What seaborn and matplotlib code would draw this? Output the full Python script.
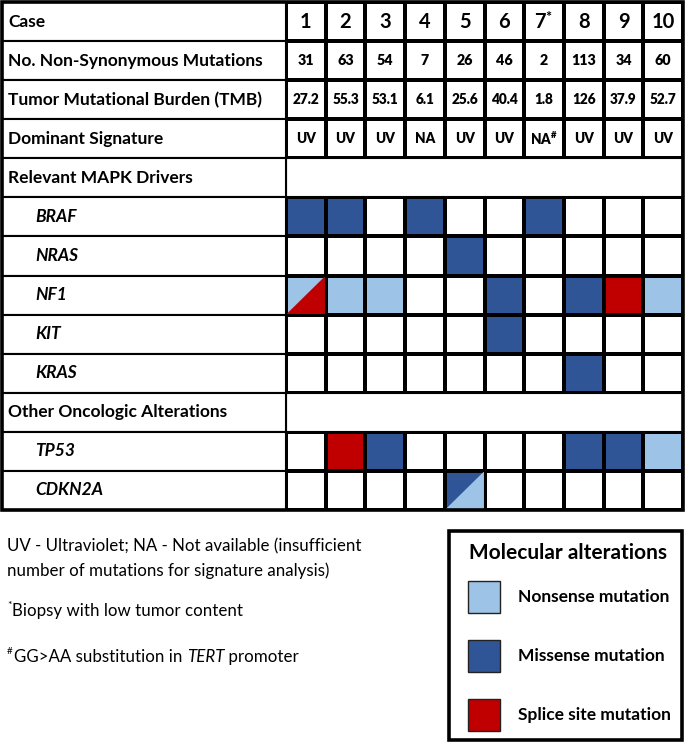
import numpy as np
import matplotlib
matplotlib.use("Agg")
import matplotlib.pyplot as plt
from matplotlib.colors import ListedColormap
from matplotlib.patches import Rectangle, Polygon
import seaborn as sns

plt.rcParams['font.family'] = ['Lato', 'DejaVu Sans']
plt.rcParams['mathtext.default'] = 'regular'

# ---------------- data ----------------
cases = ["1", "2", "3", "4", "5", "6", "7$^{*}$", "8", "9", "10"]
n_mutations = ["31", "63", "54", "7", "26", "46", "2", "113", "34", "60"]
tmb = ["27.2", "55.3", "53.1", "6.1", "25.6", "40.4", "1.8", "126", "37.9", "52.7"]
signature = ["UV", "UV", "UV", "NA", "UV", "UV", "NA$^{\\#}$", "UV", "UV", "UV"]

row_labels = ["Case", "No. Non-Synonymous Mutations", "Tumor Mutational Burden (TMB)",
              "Dominant Signature", "Relevant MAPK Drivers", "BRAF", "NRAS", "NF1",
              "KIT", "KRAS", "Other Oncologic Alterations", "TP53", "CDKN2A"]
gene_rows = ["BRAF", "NRAS", "NF1", "KIT", "KRAS", "TP53", "CDKN2A"]
section_rows = ["Relevant MAPK Drivers", "Other Oncologic Alterations"]

# N = nonsense, M = missense, S = splice site, "A/B" = split cell (upper-left / lower-right)
BRAF = ["M", "M", "", "M", "", "", "M", "", "", ""]
NRAS = ["", "", "", "", "M", "", "", "", "", ""]
NF1 = ["N/S", "N", "N", "", "", "M", "", "M", "S", "N"]
KIT = ["", "", "", "", "", "M", "", "", "", ""]
KRAS = ["", "", "", "", "", "", "", "M", "", ""]
TP53 = ["", "S", "M", "", "", "", "", "M", "M", "N"]
CDKN2A = ["", "", "", "", "M/N", "", "", "", "", ""]
gene_data = {"BRAF": BRAF, "NRAS": NRAS, "NF1": NF1, "KIT": KIT, "KRAS": KRAS,
             "TP53": TP53, "CDKN2A": CDKN2A}

legend_labels = ["Nonsense mutation", "Missense mutation", "Splice site mutation"]
code_order = ["N", "M", "S"]
colors = ["#9DC3E6", "#2F5597", "#C00000"]

# ---------------- build matrices ----------------
code_val = {"": 0, "N": 1, "M": 2, "S": 3}
nrow, ncol = len(row_labels), len(cases)
mat = np.zeros((nrow, ncol))
annot = np.full((nrow, ncol), "", dtype=object)
annot[0] = cases
annot[1] = n_mutations
annot[2] = tmb
annot[3] = signature
splits = []
for g in gene_rows:
    r = row_labels.index(g)
    for c, code in enumerate(gene_data[g]):
        if "/" in code:
            a, b = code.split("/")
            mat[r, c] = code_val[a]
            splits.append((r, c, code_val[b]))
        else:
            mat[r, c] = code_val[code]

W, H = 685, 748
fig = plt.figure(figsize=(W / 100, H / 100), dpi=100)
fig.patch.set_facecolor("white")

def fx(px):
    return px / W

def fy(py):
    return 1 - py / H

top, bot = 2, 510
lab_l, lab_r, tab_r = 2, 286, 683
grid_lw = 1.5

ax = fig.add_axes([fx(lab_r), fy(bot), fx(tab_r - lab_r), (bot - top) / H])
cmap = ListedColormap(["white"] + colors)
sns.heatmap(mat, ax=ax, cmap=cmap, vmin=-0.5, vmax=3.5, cbar=False,
            linewidths=grid_lw, linecolor="black", annot=annot, fmt="",
            annot_kws={"weight": "bold", "color": "black"},
            xticklabels=False, yticklabels=False)
for t in ax.texts:
    x, y = t.get_position()
    r = int(y)
    t.set_fontweight("heavy")
    if r == 0:
        t.set_fontsize(14.5)
        t.set_fontweight("bold")
    elif r == 1:
        t.set_fontsize(10.3)
    else:
        t.set_fontsize(9.8)

for (r, c, v) in splits:
    ax.add_patch(Polygon([(c, r + 1), (c + 1, r), (c + 1, r + 1)], closed=True,
                         facecolor=cmap(v), edgecolor="none", zorder=3))
    ax.add_patch(Rectangle((c, r), 1, 1, facecolor="none", edgecolor="black",
                           lw=grid_lw, zorder=4))

for s in section_rows:
    r = row_labels.index(s)
    ax.add_patch(Rectangle((0, r), ncol, 1, facecolor="white", edgecolor="black",
                           lw=grid_lw, zorder=5))

# label column
axl = fig.add_axes([fx(lab_l), fy(bot), fx(lab_r - lab_l), (bot - top) / H])
axl.set_xlim(0, lab_r - lab_l)
axl.set_ylim(nrow, 0)
axl.axis("off")
for r, lab in enumerate(row_labels):
    axl.add_patch(Rectangle((0, r), lab_r - lab_l, 1, facecolor="white",
                            edgecolor="black", lw=grid_lw, clip_on=False))
    if lab in gene_rows:
        axl.text(33, r + 0.5, lab, ha="left", va="center", fontsize=12.5,
                 weight="bold", style="italic")
    else:
        axl.text(6, r + 0.5, lab, ha="left", va="center", fontsize=12.5,
                 weight="bold")

# outer border
fig.add_artist(Rectangle((fx(lab_l), fy(bot)), fx(tab_r - lab_l), (bot - top) / H,
                         transform=fig.transFigure, facecolor="none",
                         edgecolor="black", lw=2.6, zorder=10))

# footnotes
fs = 12.2
fig.text(fx(7), fy(546), "UV - Ultraviolet; NA - Not available (insufficient",
         fontsize=fs, va="center", ha="left")
fig.text(fx(7), fy(571), "number of mutations for signature analysis)",
         fontsize=fs, va="center", ha="left")
fig.text(fx(7), fy(605), "*", fontsize=7.5, va="center", ha="left")
fig.text(fx(12), fy(611), "Biopsy with low tumor content", fontsize=fs,
         va="center", ha="left")
fig.text(fx(7), fy(651), "#", fontsize=7, va="center", ha="left")
renderer = fig.canvas.get_renderer()
t1 = fig.text(fx(14), fy(657), "GG>AA substitution in ", fontsize=fs,
              va="center", ha="left")
bb = t1.get_window_extent(renderer)
t2 = fig.text(bb.x1 / W, fy(657), "TERT", fontsize=fs, style="italic",
              va="center", ha="left")
bb2 = t2.get_window_extent(renderer)
fig.text(bb2.x1 / W, fy(657), " promoter", fontsize=fs, va="center", ha="left")

# legend box
fig.add_artist(Rectangle((fx(449), fy(740)), fx(682 - 449), (740 - 531) / H,
                         transform=fig.transFigure, facecolor="white",
                         edgecolor="black", lw=2.6, zorder=1))
fig.text(fx(568), fy(553), "Molecular alterations", fontsize=15, weight="bold",
         ha="center", va="center", zorder=2)
ys = [597, 656, 715]
for lab, col, yc in zip(legend_labels, colors, ys):
    fig.add_artist(Rectangle((fx(468), fy(yc + 16)), fx(32), 32 / H,
                             transform=fig.transFigure, facecolor=col,
                             edgecolor="#222222", lw=1.0, zorder=2))
    fig.text(fx(518), fy(yc), lab, fontsize=12.5, weight="bold", ha="left",
             va="center", zorder=2)

fig.savefig("out.png", dpi=100, facecolor="white")
